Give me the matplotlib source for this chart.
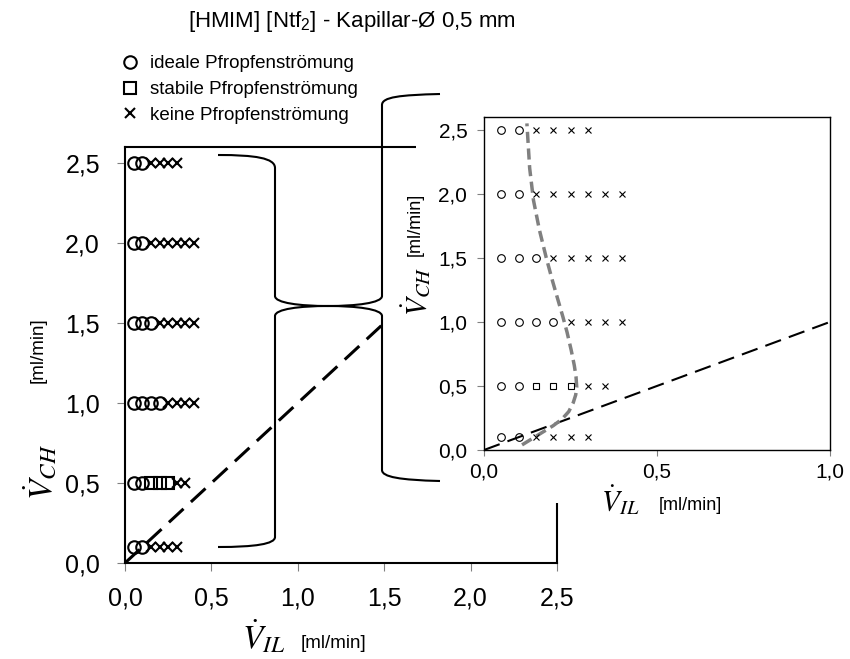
import matplotlib
matplotlib.use("Agg")
import matplotlib.pyplot as plt
from matplotlib.patches import Rectangle, PathPatch
from matplotlib.path import Path

plt.rcParams['font.family'] = ['Liberation Sans', 'DejaVu Sans']
plt.rcParams['mathtext.fontset'] = 'custom'
plt.rcParams['mathtext.rm'] = 'Liberation Sans'
plt.rcParams['mathtext.it'] = 'Liberation Sans:italic'
plt.rcParams['mathtext.bf'] = 'Liberation Sans:bold'

# ---- flow regime observations: ionic liquid flow (x) vs. cyclohexane flow (y), ml/min ----
ideal_il = [0.05, 0.10,
            0.05, 0.10,
            0.05, 0.10, 0.15, 0.20,
            0.05, 0.10, 0.15,
            0.05, 0.10,
            0.05, 0.10]
ideal_ch = [0.1, 0.1,
            0.5, 0.5,
            1.0, 1.0, 1.0, 1.0,
            1.5, 1.5, 1.5,
            2.0, 2.0,
            2.5, 2.5]

stable_il = [0.15, 0.20, 0.25]
stable_ch = [0.5, 0.5, 0.5]

none_il = [0.15, 0.20, 0.25, 0.30,
           0.30, 0.35,
           0.25, 0.30, 0.35, 0.40,
           0.20, 0.25, 0.30, 0.35, 0.40,
           0.15, 0.20, 0.25, 0.30, 0.35, 0.40,
           0.15, 0.20, 0.25, 0.30]
none_ch = [0.1, 0.1, 0.1, 0.1,
           0.5, 0.5,
           1.0, 1.0, 1.0, 1.0,
           1.5, 1.5, 1.5, 1.5, 1.5,
           2.0, 2.0, 2.0, 2.0, 2.0, 2.0,
           2.5, 2.5, 2.5, 2.5]

# regime boundary (grey dashed curve in the detail view)
boundary_il = [0.110, 0.140, 0.170, 0.200, 0.225, 0.245, 0.258, 0.265, 0.268,
               0.266, 0.261, 0.252, 0.240, 0.228, 0.214, 0.198, 0.180, 0.160,
               0.143, 0.132, 0.124]
boundary_ch = [0.04, 0.09, 0.14, 0.19, 0.24, 0.30, 0.37, 0.43, 0.49,
               0.57, 0.66, 0.78, 0.92, 1.04, 1.17, 1.32, 1.50, 1.72,
               1.95, 2.20, 2.55]

# equal-flow reference line V_IL = V_CH
diag_main = [0.0, 1.5]
diag_detail = [0.0, 1.0]

main_xticks = [0.0, 0.5, 1.0, 1.5, 2.0, 2.5]
main_xticklabels = ['0,0', '0,5', '1,0', '1,5', '2,0', '2,5']
main_yticks = [0.0, 0.5, 1.0, 1.5, 2.0, 2.5]
main_yticklabels = ['0,0', '0,5', '1,0', '1,5', '2,0', '2,5']
detail_xticks = [0.0, 0.5, 1.0]
detail_xticklabels = ['0,0', '0,5', '1,0']
detail_yticks = main_yticks
detail_yticklabels = main_yticklabels

legend_labels = ['ideale Pfropfenströmung', 'stabile Pfropfenströmung',
                 'keine Pfropfenströmung']
title_text = '[HMIM] [Ntf$_\\mathregular{2}$] - Kapillar-Ø 0,5 mm'

W, H = 850, 659
fig = plt.figure(figsize=(W / 100, H / 100), dpi=100)
fig.patch.set_facecolor('white')


def fx(px):
    return px / W


def fy(py):
    return 1 - py / H


TICK_GREY = '#808080'

# ---------------- main chart ----------------
ax = fig.add_axes([fx(125), fy(563), (557 - 125) / W, (563 - 147) / H])
ax.set_zorder(0)
ax.set_xlim(0, 2.5)
ax.set_ylim(0, 2.6)
for s in ax.spines.values():
    s.set_linewidth(1.5)
    s.set_color('black')
ax.set_xticks(main_xticks)
ax.set_xticklabels(main_xticklabels)
ax.set_yticks(main_yticks)
ax.set_yticklabels(main_yticklabels)
ax.tick_params(axis='both', direction='out', length=6, width=0.8,
               color=TICK_GREY, labelsize=18)
ax.tick_params(axis='x', pad=11)
ax.tick_params(axis='y', pad=12)

ax.plot(diag_main, diag_main, color='black', lw=2.2, dashes=(6.5, 3.3),
        dash_capstyle='butt', zorder=2)
h_ideal, = ax.plot(ideal_il, ideal_ch, ls='none', marker='o', ms=9,
                   mfc='none', mec='black', mew=1.5, clip_on=False, zorder=3)
h_stable, = ax.plot(stable_il, stable_ch, ls='none', marker='s', ms=8,
                    mfc='none', mec='black', mew=1.5, clip_on=False, zorder=3)
h_none, = ax.plot(none_il, none_ch, ls='none', marker='x', ms=7,
                  mec='black', mew=1.5, clip_on=False, zorder=3)

fig.legend([h_ideal, h_stable, h_none], legend_labels,
           loc='upper left', bbox_to_anchor=(fx(120.6), fy(55)),
           frameon=False, fontsize=13.5, handlelength=1.0,
           handletextpad=0.55, labelspacing=0.47, borderpad=0,
           borderaxespad=0)

# white chart area of the detail view
fig.add_artist(Rectangle((fx(416), fy(503)), 1 - fx(416), fy(85) - fy(503),
                         transform=fig.transFigure, facecolor='white',
                         edgecolor='none', zorder=2))

# ---------------- detail chart ----------------
axi = fig.add_axes([fx(484), fy(450), (830 - 484) / W, (450 - 117) / H])
axi.set_zorder(3)
axi.set_xlim(0, 1.0)
axi.set_ylim(0, 2.6)
for s in axi.spines.values():
    s.set_linewidth(1.0)
    s.set_color('black')
axi.set_xticks(detail_xticks)
axi.set_xticklabels(detail_xticklabels)
axi.set_yticks(detail_yticks)
axi.set_yticklabels(detail_yticklabels)
axi.tick_params(axis='both', direction='out', width=0.8, color=TICK_GREY,
                labelsize=15)
axi.tick_params(axis='x', length=4, pad=5)
axi.tick_params(axis='y', length=5, pad=7)

axi.plot(diag_detail, diag_detail, color='black', lw=1.5, dashes=(8, 4),
         dash_capstyle='butt', zorder=2)
axi.plot(boundary_il, boundary_ch, color='#808080', lw=2.5, dashes=(3.2, 1.6),
         dash_capstyle='butt', zorder=2)
axi.plot(ideal_il, ideal_ch, ls='none', marker='o', ms=5.5, mfc='none',
         mec='black', mew=0.8, zorder=3)
axi.plot(stable_il, stable_ch, ls='none', marker='s', ms=5, mfc='none',
         mec='black', mew=0.8, zorder=3)
axi.plot(none_il, none_ch, ls='none', marker='x', ms=5, mec='black',
         mew=0.8, zorder=3)

# ---------------- braces linking the two views ----------------
M, C, L = Path.MOVETO, Path.CURVE4, Path.LINETO
brace_codes = [M, C, C, C, L, C, C, C, C, C, C, L, C, C, C]
left_brace = [(218, 155), (255, 155), (275, 158), (275, 168),
              (275, 296),
              (275, 303), (300, 306), (328, 306),
              (300, 306), (275, 309), (275, 316),
              (275, 537),
              (275, 544), (255, 547), (218, 547)]
right_brace = [(440, 94), (400, 95), (382, 97), (382, 105),
               (382, 296),
               (382, 303), (356, 306), (328, 306),
               (356, 306), (382, 309), (382, 316),
               (382, 470),
               (382, 477), (400, 480), (440, 481)]
for pts in (left_brace, right_brace):
    path = Path([(fx(x), fy(y)) for x, y in pts], brace_codes)
    fig.add_artist(PathPatch(path, transform=fig.transFigure, facecolor='none',
                             edgecolor='black', lw=1.5, zorder=4))

# ---------------- axis titles ----------------
fig.text(fx(264), fy(637), r'$\dot{V}_{IL}$', fontsize=24, math_fontfamily='stix',
         ha='center', va='center', zorder=5)
fig.text(fx(334), fy(644), '[ml/min]', fontsize=13.5, ha='center', va='center',
         zorder=5)
fig.text(fx(40), fy(472), r'$\dot{V}_{CH}$', fontsize=24, math_fontfamily='stix',
         ha='center', va='center', rotation=90, zorder=5)
fig.text(fx(38), fy(350), '[ml/min]', fontsize=13.5, ha='center', va='center',
         rotation=90, zorder=5)

fig.text(fx(620), fy(500), r'$\dot{V}_{IL}$', fontsize=21, math_fontfamily='stix',
         ha='center', va='center', zorder=5)
fig.text(fx(690), fy(506), '[ml/min]', fontsize=13, ha='center', va='center',
         zorder=5)
fig.text(fx(416), fy(291), r'$\dot{V}_{CH}$', fontsize=21, math_fontfamily='stix',
         ha='center', va='center', rotation=90, zorder=5)
fig.text(fx(415), fy(224), '[ml/min]', fontsize=13, ha='center', va='center',
         rotation=90, zorder=5)

fig.text(fx(352), fy(22), title_text, fontsize=16, ha='center', va='center',
         zorder=5)

fig.savefig('out.png', dpi=100, facecolor='white')
